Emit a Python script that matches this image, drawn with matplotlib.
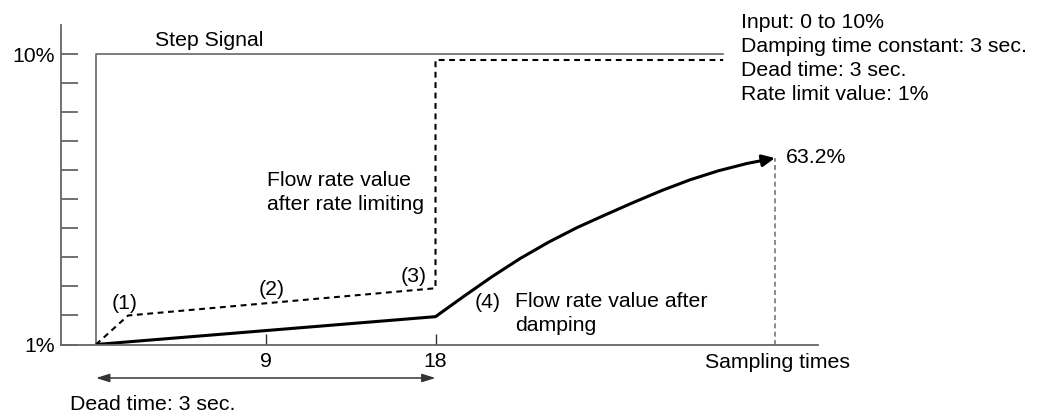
import matplotlib
matplotlib.use("Agg")
import matplotlib.pyplot as plt

plt.rcParams["font.family"] = ["Liberation Sans", "DejaVu Sans"]
plt.rcParams["font.size"] = 15.3

# step input
step_t = [0, 0, 33.25]
step_y = [0, 10, 10]

# flow rate after rate limiting (dashed)
limit_t = [0, 1.7, 18, 18, 33.25]
limit_y = [0, 1.0, 1.94, 9.81, 9.81]

# flow rate after damping (solid, thick)
damp_t = [0, 18, 19.5, 21, 22.5, 24, 25.5, 27, 28.5, 30, 31.5, 33, 34.5, 36]
damp_y = [0, 0.96, 1.66, 2.34, 2.97, 3.53, 4.03, 4.47, 4.90, 5.31, 5.68, 5.99, 6.24, 6.43]

y_ticks = list(range(11))
y_labels = ["1%"] + [""] * 9 + ["10%"]
x_ticks = [9, 18]
x_labels = ["9", "18"]

AX_GREY = "#666666"
LS = 1.33  # line spacing of the multi-line notes

fig = plt.figure(figsize=(10.44, 4.12), dpi=100)
ax = fig.add_axes([61 / 1044, 67.5 / 412, 757 / 1044, 319.5 / 412])
ax.set_xlim(-1.856, 38.28)
ax.set_ylim(0, 11.017)
for s in ("top", "right"):
    ax.spines[s].set_visible(False)
for s in ("left", "bottom"):
    ax.spines[s].set_color(AX_GREY)
    ax.spines[s].set_linewidth(1.3)

ax.set_yticks(y_ticks)
ax.set_yticklabels(y_labels)
ax.set_xticks(x_ticks)
ax.set_xticklabels(x_labels)
ax.tick_params(axis="y", direction="in", length=12.2, width=1.3, color=AX_GREY, pad=4.3)
ax.tick_params(axis="x", direction="in", length=8, width=1.0, color="#333333", pad=5.4)

ax.plot(step_t, step_y, color=AX_GREY, lw=1.2)
ax.plot(limit_t, limit_y, color="black", lw=1.5, dashes=(2.8, 2.2))
ax.plot(damp_t[:-1], damp_y[:-1], color="black", lw=2.2, solid_capstyle="butt",
        solid_joinstyle="round")
ax.annotate("", xy=(damp_t[-1], damp_y[-1]), xytext=(damp_t[-2], damp_y[-2]),
            arrowprops=dict(arrowstyle="-|>,head_length=0.75,head_width=0.35",
                            mutation_scale=10, color="black", lw=2.2,
                            shrinkA=0, shrinkB=0))
ax.plot([damp_t[-1], damp_t[-1]], [0, damp_y[-1]], color="#777777", lw=1.2,
        dashes=(3, 2))

# dead time arrow below the axis
ax.annotate("", xy=(0, -1.155), xytext=(18, -1.155), annotation_clip=False,
            arrowprops=dict(arrowstyle="<|-|>,head_length=0.8,head_width=0.25",
                            mutation_scale=10, color="#333333", lw=1.1,
                            shrinkA=0, shrinkB=0))

# multi-line texts: baseline refers to the last line
ax.text(3.13, 10.29, "Step Signal", va="baseline")
ax.text(9.07, 4.64, "Flow rate value\nafter rate limiting", va="baseline",
        linespacing=LS)
ax.text(1.54, 1.43, "(1)", ha="center", va="center")
ax.text(9.33, 1.88, "(2)", ha="center", va="center")
ax.text(16.86, 2.33, "(3)", ha="center", va="center")
ax.text(20.1, 1.26, "(4)", va="baseline")
ax.text(22.22, 0.46, "Flow rate value after\ndamping", va="baseline",
        linespacing=LS)
ax.text(36.59, 6.26, "63.2%", va="baseline")
ax.text(34.2, 8.43, "Input: 0 to 10%\nDamping time constant: 3 sec.\nDead time: 3 sec.\nRate limit value: 1%",
        va="baseline", linespacing=LS)
ax.text(32.29, -0.81, "Sampling times", va="baseline")
ax.text(-1.38, -2.26, "Dead time: 3 sec.", va="baseline")

fig.savefig("out.png", dpi=100)
